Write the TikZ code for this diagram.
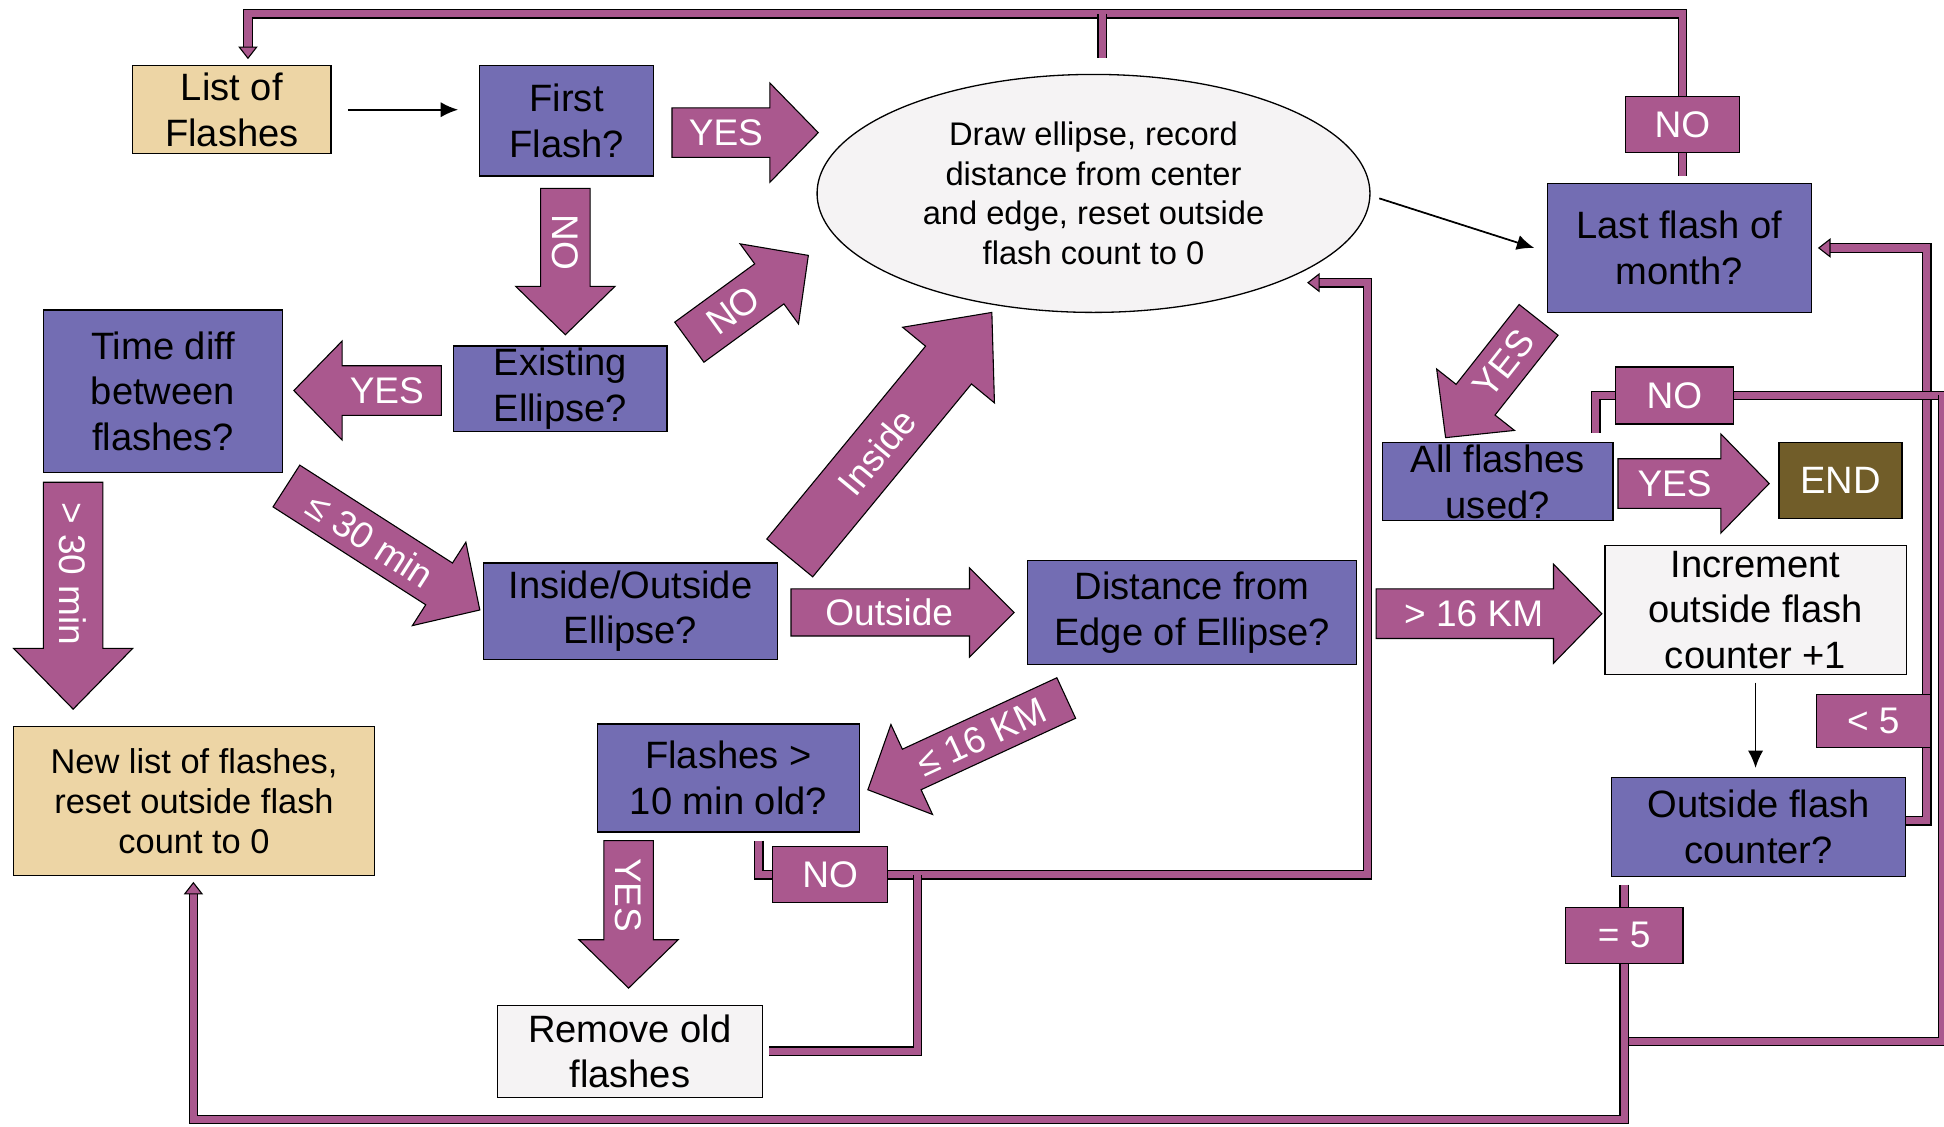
\documentclass[tikz,border=0pt]{standalone}
\usepackage{fontspec}
\setmainfont{Liberation Sans}
\usetikzlibrary{calc,backgrounds,arrows.meta,shapes.geometric}
\definecolor{qpurple}{HTML}{736DB3}
\definecolor{pipec}{HTML}{AA588E}
\definecolor{tanc}{HTML}{EDD5A5}
\definecolor{lgray}{HTML}{F5F3F4}
\definecolor{endc}{HTML}{715D29}
\newcommand\boxfont{\fontsize{17.5}{21}\selectfont}
\newcommand\lblfont{\fontsize{17}{20}\selectfont}
\newcommand\ellfont{\fontsize{15}{18.2}\selectfont}
\newcommand\nlfont{\fontsize{15.8}{18.4}\selectfont}
\tikzset{
  box/.style={draw=black, line width=0.6pt, align=center, inner sep=0pt, font=\boxfont},
  qbox/.style={box, fill=qpurple},
  tanbox/.style={box, fill=tanc},
  graybox/.style={box, fill=lgray},
  lblbox/.style={box, fill=pipec, text=white, font=\lblfont},
  endbox/.style={box, fill=endc, text=white},
  blockarr/.style={fill=pipec, draw=black, line width=0.5pt, line join=miter},
  arrlbl/.style={text=white, font=\lblfont, inner sep=0pt},
  pipe/.style={draw=black, line width=0.6pt, double=pipec, double distance=3.3pt, line join=miter},
  thinarr/.style={draw=black, line width=0.8pt, -{Latex[length=8pt,width=7pt]}},
  ptipst/.style={fill=pipec, draw=black, line width=0.5pt},
}
% block arrow: [size defs]{name}{tail}{tip}{text rotation}{text}
\newcommand\barr[6][]{%
  \begingroup\def\bw{0.4cm}\def\hw{0.8cm}\def\hl{0.78cm}#1%
  \coordinate (bT) at #3; \coordinate (bP) at #4;
  \coordinate (bH) at ($(bP)!\hl!(bT)$);
  \draw[blockarr] ($(bT)!\bw!90:(bP)$) -- ($(bH)!\bw!90:(bP)$) -- ($(bH)!\hw!90:(bP)$) -- (bP)
     -- ($(bH)!\hw!-90:(bP)$) -- ($(bH)!\bw!-90:(bP)$) -- ($(bT)!\bw!-90:(bP)$) -- cycle;
  \node[arrlbl, rotate=#5] (#2) at ($(bT)!0.55!(bH)$) {#6};
  \endgroup}
% small tip at the end of a pipe
\newcommand\ptip[2]{\begin{scope}[shift={#1},rotate=#2]\draw[ptipst] (0,0) -- (-9,7) -- (-9,-7) -- cycle;\end{scope}}
\begin{document}
\begin{tikzpicture}[x=0.02cm, y=-0.02cm]
\useasboundingbox (0,0) rectangle (1568,909);
% boxes
\node[tanbox, minimum width=3.2cm, minimum height=1.42cm] (list) at (187,88.5) {List of\\Flashes};
\node[qbox, minimum width=2.8cm, minimum height=1.78cm] (first) at (457,97.5) {First\\Flash?};
\node[draw=black, line width=0.6pt, ellipse, fill=lgray, minimum width=8.92cm, minimum height=3.84cm, inner sep=0pt, align=center, font=\ellfont] (ell) at (882,156) {Draw ellipse, record\\distance from center\\and edge, reset outside\\flash count to 0};
\node[qbox, minimum width=3.44cm, minimum height=1.38cm] (exist) at (452,313.5) {Existing\\Ellipse?};
\node[qbox, minimum width=3.86cm, minimum height=2.62cm] (tdiff) at (131.5,315.5) {Time diff\\between\\flashes?};
\node[tanbox, font=\nlfont, minimum width=5.82cm, minimum height=2.4cm] (newlist) at (156.5,646) {New list of flashes,\\reset outside flash\\count to 0};
\node[qbox, minimum width=4.74cm, minimum height=1.56cm] (inout) at (508.5,493) {Inside/Outside\\Ellipse?};
\node[qbox, minimum width=5.3cm, minimum height=1.68cm] (dist) at (961.5,494) {Distance from\\Edge of Ellipse?};
\node[graybox, minimum width=4.86cm, minimum height=2.08cm] (incr) at (1416,492) {Increment\\outside flash\\counter +1};
\node[qbox, minimum width=4.74cm, minimum height=1.6cm] (ocnt) at (1418.5,667) {Outside flash\\counter?};
\node[lblbox, minimum width=1.84cm, minimum height=0.86cm] (lt5) at (1511,581.5) {< 5};
\node[lblbox, minimum width=1.9cm, minimum height=0.9cm] (eq5) at (1310,754.5) {= 5};
\node[qbox, minimum width=4.22cm, minimum height=1.74cm] (old10) at (587.5,627.5) {Flashes >\\10 min old?};
\node[graybox, minimum width=4.28cm, minimum height=1.48cm] (remove) at (508,848) {Remove old\\flashes};
\node[lblbox, minimum width=1.86cm, minimum height=0.9cm] (nobot) at (669.5,705.5) {NO};
\node[qbox, minimum width=4.26cm, minimum height=2.08cm] (last) at (1354.5,200) {Last flash of\\month?};
\node[lblbox, minimum width=1.84cm, minimum height=0.9cm] (notop) at (1357,100.5) {NO};
\node[qbox, minimum width=3.72cm, minimum height=1.26cm] (allused) at (1208,388.5) {All flashes\\used?};
\node[endbox, minimum width=1.98cm, minimum height=1.22cm] (endn) at (1484.5,387.5) {END};
\node[lblbox, minimum width=1.9cm, minimum height=0.92cm] (nomid) at (1350.5,319) {NO};
% thin arrows
\coordinate (la) at ($(list.east)+(13,0)$);
\draw[thinarr] (la) -- ($(first.west |- la)+(-17,0)$);
\draw[thinarr] ($(ell.east)+(7,4)$) -- ($(last.west)+(-10,0)$);
\coordinate (ia) at ($(incr.south)+(0,6)$);
\draw[thinarr] (ia) -- ($(ia |- ocnt.north)+(0,-7)$);
% block arrows
\barr{yes1}{(542,107)}{(660,107)}{0}{YES}
\barr{no1}{(456,152)}{(456,270)}{-90}{NO}
\barr{yes2}{(356,315)}{(237,315)}{0}{YES}
\barr{no2}{(556,276)}{(652,206)}{36}{NO}
\barr[\def\bw{0.48cm}\def\hw{0.96cm}\def\hl{0.98cm}]{gt30}{(59,389)}{(59,572)}{-90}{> 30 min}
\barr{le30}{(231,392)}{(387,492)}{-32.7}{≤ 30 min}
\barr[\def\bw{0.48cm}\def\hw{0.96cm}\def\hl{1.1cm}]{inside}{(637,450)}{(800,252)}{50.5}{Inside}
\barr[\def\bw{0.38cm}\def\hw{0.72cm}\def\hl{0.72cm}]{outside}{(638,494)}{(818,494)}{0}{Outside}
\barr[\def\bw{0.36cm}]{le16}{(860,563)}{(700,637)}{24.8}{≤ 16 KM}
\barr{gt16}{(1110,495)}{(1292,495)}{0}{> 16 KM}
\barr{yes3}{(507,678)}{(507,797)}{-90}{YES}
\barr{yes4}{(1241,258)}{(1166,353)}{51.7}{YES}
\barr{yes5}{(1305,390)}{(1427,390)}{0}{YES}
% pipes
\begin{pgfonlayer}{background}
\draw[pipe] (200,39) -- (200,11) -- (1357,11) -- (notop.north);
\draw[pipe] (889,11) -- (889,47);
\draw[pipe] (notop.south) -- (1357,142);
\draw[pipe] (ocnt.east |- 0,662) -- (1554,662) -- (1554,200) -- (1475,200);
\draw[pipe] (1287,349) -- (1287,319) -- (nomid.west);
\draw[pipe] (nomid.east) -- (1572,319);
\draw[pipe] (1567,319) -- (1567,840) -- (1310,840);
\draw[pipe] (eq5 |- ocnt.south) ++(0,6) -- (eq5.north);
\draw[pipe] (eq5.south) -- (1310,903) -- (156,903) -- (156,720);
\draw[pipe] (612,678) -- (612,705.5) -- (nobot.west);
\draw[pipe] (nobot.east) -- (1103,705.5) -- (1103,228) -- (1063,228);
\draw[pipe] ($(remove.east)+(5,0)$) -- (740,848) -- (740,705.5);
\end{pgfonlayer}
\ptip{(200,47)}{-90}
\ptip{(156,712)}{90}
\ptip{(1055,228)}{180}
\ptip{(1467,200)}{180}
\end{tikzpicture}
\end{document}
